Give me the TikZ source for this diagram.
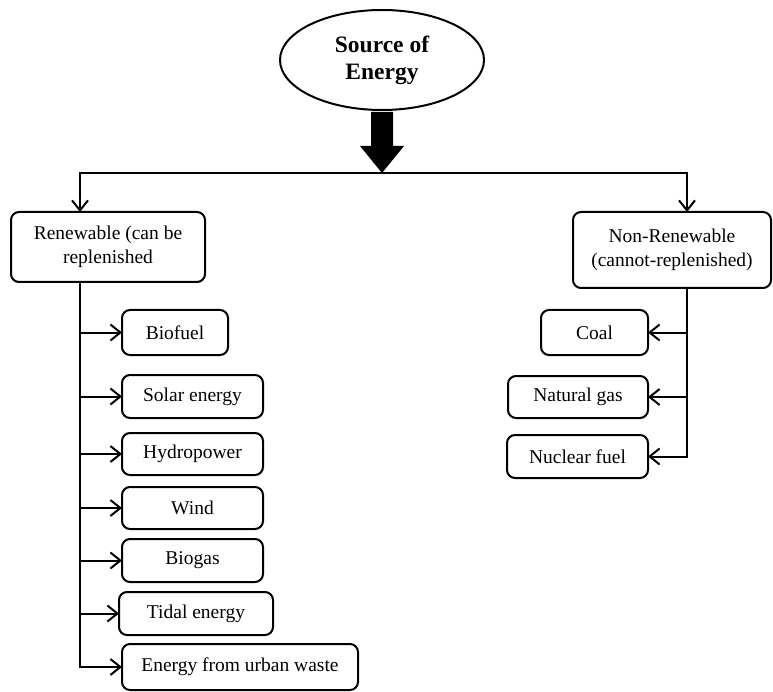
\documentclass[tikz,border=0pt]{standalone}
\usepackage{fontspec}
\setmainfont{Liberation Serif}
\usetikzlibrary{arrows.meta,shapes.geometric}

\begin{document}
\begin{tikzpicture}[x=1pt,y=-1pt,line width=2pt,every node/.style={outer sep=0pt,inner sep=2pt}]
				\tikzstyle{box}=[draw,rounded corners=8pt,align=center,font=\fontsize{19.5}{24}\selectfont]
				\tikzstyle{link}=[-{Straight Barb[length=10pt,width=16pt]}]
				\useasboundingbox (0,0) rectangle (773,692);
				
				\node (src) [draw,ellipse,minimum width=204pt,minimum height=100pt,align=center,font=\bfseries\fontsize{23.5}{27}\selectfont] at (382,60) {Source of\\Energy};	% Quelle
				\coordinate (split) at (382,173);
				\coordinate (tl) at (80,282);																	% Stamm links
				\coordinate (tr) at (687,288);																	% Stamm rechts
				
				% dicker Pfeil nach unten
				\fill (src.south) ++(-11,2) -- ++(22,0) -- ++(0,34) -- ++(11,0) -- (split) -- ++(-22,-27) -- ++(11,0) -- cycle;
				
				\node (ren) [box,minimum width=194pt,minimum height=70pt] at (108,247) {Renewable (can be\\replenished};
				\node (non) [box,minimum width=198pt,minimum height=76pt] at (672,250) {Non-Renewable\\(cannot-replenished)};
				
				\draw [link] (split) -| (ren.north -| tl);
				\draw [link] (split) -| (non.north -| tr);
				
				% erneuerbar
				\node (bio) [box,minimum width=106pt,minimum height=45pt] at (175,332.5) {Biofuel};
				\node (sol) [box,minimum width=141pt,minimum height=43pt] at (192.5,396.5) {Solar energy};
				\node (hyd) [box,minimum width=141pt,minimum height=42pt] at (192.5,454) {Hydropower};
				\node (wnd) [box,minimum width=141pt,minimum height=42pt] at (192.5,508) {Wind};
				\node (bgs) [box,minimum width=141pt,minimum height=43pt] at (192.5,560.5) {Biogas};
				\node (tid) [box,minimum width=154pt,minimum height=43pt] at (196,613.5) {Tidal energy};
				\node (urb) [box,minimum width=236pt,minimum height=46pt] at (240,667) {Energy from urban waste};
				\foreach \n in {bio,sol,hyd,wnd,bgs,tid,urb}
					\draw [link] (tl) |- (\n.west);
				
				% nicht erneuerbar
				\node (coal) [box,minimum width=107pt,minimum height=45pt] at (594.5,332.5) {Coal};
				\node (gas) [box,minimum width=140pt,minimum height=42pt] at (578,397) {Natural gas};
				\node (nuc) [box,minimum width=141pt,minimum height=43pt] at (577.5,456.5) {Nuclear fuel};
				\foreach \n in {coal,gas,nuc}
					\draw [link] (tr) |- (\n.east);
				\end{tikzpicture}
\end{document}
